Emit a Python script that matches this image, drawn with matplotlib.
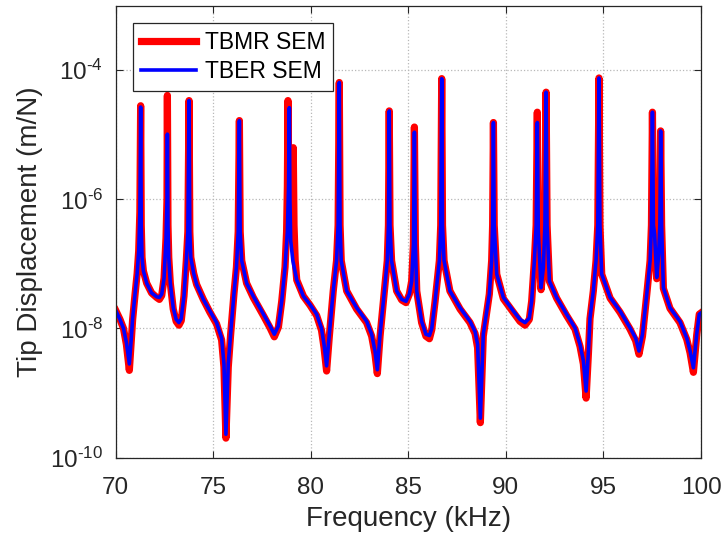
import numpy as np
import matplotlib.pyplot as plt
from matplotlib.ticker import FixedLocator, FixedFormatter

plt.rcParams['font.family'] = ['Liberation Sans', 'DejaVu Sans']
plt.rcParams['mathtext.fontset'] = 'custom'
plt.rcParams['mathtext.rm'] = 'Liberation Sans'
plt.rcParams['mathtext.it'] = 'Liberation Sans'

# TBER SEM (blue): frequency (kHz) and log10 of tip displacement
f_tber = [70.00, 70.22, 70.40, 70.55, 70.70, 70.80, 70.87, 70.99, 71.10, 71.18, 71.24, 71.28,
          71.31, 71.35, 71.42, 71.59, 71.84, 72.10, 72.24, 72.36, 72.48, 72.58, 72.63, 72.65,
          72.68, 72.72, 72.80, 72.95, 73.10, 73.24, 73.36, 73.50, 73.62, 73.70, 73.76, 73.80,
          73.85, 74.00, 74.15, 74.49, 74.83, 75.17, 75.43, 75.55, 75.65, 75.77, 75.89, 76.06,
          76.19, 76.28, 76.34, 76.38, 76.46, 76.71, 77.05, 77.57, 77.91, 78.13, 78.34, 78.51,
          78.68, 78.80, 78.86, 78.90, 78.93, 78.97, 79.08, 79.28, 79.62, 79.96, 80.30, 80.55,
          80.68, 80.81, 80.95, 81.15, 81.32, 81.40, 81.46, 81.50, 81.56, 81.84, 82.35, 82.86,
          83.12, 83.29, 83.41, 83.55, 83.72, 83.92, 83.98, 84.02, 84.06, 84.14, 84.40, 84.66,
          84.88, 85.05, 85.17, 85.26, 85.31, 85.36, 85.43, 85.68, 85.90, 86.08, 86.20, 86.37,
          86.59, 86.66, 86.71, 86.75, 86.83, 87.13, 87.65, 88.16, 88.42, 88.55, 88.69, 88.84,
          89.15, 89.27, 89.32, 89.36, 89.40, 89.53, 89.87, 90.38, 90.72, 90.98, 91.20, 91.32,
          91.46, 91.55, 91.61, 91.66, 91.80, 91.92, 92.00, 92.06, 92.11, 92.23, 92.60, 93.11,
          93.54, 93.80, 93.97, 94.11, 94.23, 94.31, 94.48, 94.62, 94.71, 94.77, 94.82, 94.91,
          95.34, 95.85, 96.36, 96.65, 96.82, 97.00, 97.22, 97.39, 97.46, 97.51, 97.56, 97.62,
          97.73, 97.83, 97.89, 97.93, 97.98, 98.07, 98.41, 98.92, 99.27, 99.44, 99.61, 99.78,
          99.91, 100.00]
exp_tber = [-7.72, -7.86, -8.00, -8.22, -8.55, -8.15, -7.84, -7.47, -7.15, -6.80, -6.20, -4.57,
            -6.40, -6.90, -7.11, -7.30, -7.45, -7.51, -7.52, -7.47, -7.22, -6.60, -6.00, -4.99,
            -6.40, -6.90, -7.30, -7.68, -7.86, -7.91, -7.85, -7.50, -6.95, -6.50, -4.47, -6.50,
            -6.90, -7.15, -7.32, -7.55, -7.73, -7.91, -8.15, -8.55, -9.64, -8.55, -8.09, -7.47,
            -7.05, -6.50, -4.78, -6.50, -6.95, -7.30, -7.50, -7.78, -7.96, -8.09, -7.96, -7.58,
            -7.05, -6.50, -5.80, -4.58, -6.00, -6.64, -6.95, -7.25, -7.50, -7.63, -7.78, -8.00,
            -8.25, -8.58, -8.09, -7.42, -6.95, -6.40, -4.19, -6.40, -6.95, -7.42, -7.68, -7.89,
            -8.09, -8.35, -8.64, -8.09, -7.58, -6.95, -6.40, -4.63, -6.40, -6.95, -7.42, -7.55,
            -7.58, -7.47, -7.27, -6.70, -4.96, -6.70, -7.42, -7.89, -8.09, -8.11, -8.00, -7.58,
            -6.95, -6.40, -4.13, -6.40, -6.95, -7.42, -7.68, -7.89, -8.05, -8.25, -9.39, -8.09,
            -7.47, -6.95, -6.40, -4.81, -6.40, -7.16, -7.52, -7.73, -7.86, -7.91, -7.84, -7.58,
            -6.95, -6.40, -4.81, -6.50, -7.37, -7.06, -6.40, -4.34, -6.40, -7.27, -7.52, -7.78,
            -7.99, -8.25, -8.50, -8.97, -8.35, -7.84, -7.42, -6.95, -6.40, -4.12, -6.40, -7.16,
            -7.52, -7.73, -7.99, -8.15, -8.35, -8.09, -7.47, -6.95, -6.40, -4.65, -6.40, -6.54,
            -7.21, -6.85, -6.40, -4.94, -6.40, -7.37, -7.68, -7.89, -8.15, -8.35, -8.61, -8.09,
            -7.78, -7.76]

# TBMR SEM (red)
f_tbmr = [70.00, 70.22, 70.40, 70.55, 70.70, 70.80, 70.87, 70.99, 71.10, 71.18, 71.24, 71.28,
          71.31, 71.35, 71.42, 71.59, 71.84, 72.10, 72.24, 72.36, 72.48, 72.58, 72.63, 72.65,
          72.68, 72.72, 72.80, 72.95, 73.10, 73.24, 73.36, 73.50, 73.62, 73.70, 73.76, 73.80,
          73.85, 74.00, 74.15, 74.49, 74.83, 75.17, 75.43, 75.55, 75.65, 75.77, 75.89, 76.06,
          76.19, 76.28, 76.34, 76.38, 76.46, 76.71, 77.05, 77.57, 77.91, 78.13, 78.34, 78.51,
          78.68, 78.76, 78.80, 78.83, 78.87, 78.93, 79.00, 79.06, 79.10, 79.14, 79.20, 79.28,
          79.62, 79.96, 80.30, 80.55, 80.68, 80.81, 80.95, 81.15, 81.32, 81.40, 81.46, 81.50,
          81.56, 81.84, 82.35, 82.86, 83.12, 83.29, 83.41, 83.55, 83.72, 83.92, 83.98, 84.02,
          84.06, 84.14, 84.40, 84.66, 84.88, 85.05, 85.17, 85.26, 85.31, 85.36, 85.43, 85.68,
          85.90, 86.08, 86.20, 86.37, 86.59, 86.66, 86.71, 86.75, 86.83, 87.13, 87.65, 88.16,
          88.42, 88.55, 88.69, 88.84, 89.15, 89.27, 89.32, 89.36, 89.40, 89.53, 89.87, 90.38,
          90.72, 90.98, 91.20, 91.32, 91.46, 91.55, 91.61, 91.66, 91.80, 91.92, 92.00, 92.06,
          92.11, 92.23, 92.60, 93.11, 93.54, 93.80, 93.97, 94.11, 94.23, 94.31, 94.48, 94.62,
          94.71, 94.77, 94.82, 94.91, 95.34, 95.85, 96.36, 96.65, 96.82, 97.00, 97.22, 97.39,
          97.46, 97.51, 97.56, 97.62, 97.73, 97.83, 97.89, 97.93, 97.98, 98.07, 98.41, 98.92,
          99.27, 99.44, 99.61, 99.78, 99.91, 100.00]
exp_tbmr = [-7.72, -7.86, -8.00, -8.25, -8.65, -8.18, -7.86, -7.48, -7.15, -6.80, -6.20, -4.55,
            -6.40, -6.90, -7.11, -7.30, -7.45, -7.52, -7.55, -7.49, -7.22, -6.60, -6.00, -4.39,
            -6.40, -6.90, -7.30, -7.70, -7.89, -7.95, -7.88, -7.50, -6.95, -6.50, -4.47, -6.50,
            -6.90, -7.15, -7.32, -7.55, -7.75, -7.93, -8.18, -8.60, -9.70, -8.60, -8.10, -7.47,
            -7.05, -6.50, -4.78, -6.50, -6.95, -7.30, -7.52, -7.80, -7.99, -8.13, -7.98, -7.58,
            -7.05, -6.50, -5.80, -4.47, -6.00, -6.45, -6.55, -6.10, -5.20, -6.40, -6.95, -7.25,
            -7.50, -7.64, -7.80, -8.03, -8.30, -8.66, -8.12, -7.42, -6.95, -6.40, -4.19, -6.40,
            -6.95, -7.42, -7.70, -7.91, -8.12, -8.40, -8.70, -8.12, -7.58, -6.95, -6.40, -4.63,
            -6.40, -6.95, -7.42, -7.56, -7.60, -7.47, -7.27, -6.70, -4.88, -6.70, -7.42, -7.91,
            -8.12, -8.16, -8.02, -7.58, -6.95, -6.40, -4.13, -6.40, -6.95, -7.42, -7.70, -7.91,
            -8.08, -8.30, -9.46, -8.12, -7.47, -6.95, -6.40, -4.81, -6.40, -7.16, -7.54, -7.75,
            -7.89, -7.95, -7.86, -7.58, -6.95, -6.40, -4.65, -6.50, -7.40, -7.06, -6.40, -4.34,
            -6.40, -7.27, -7.53, -7.80, -8.01, -8.28, -8.55, -9.08, -8.38, -7.85, -7.42, -6.95,
            -6.40, -4.12, -6.40, -7.16, -7.53, -7.75, -8.01, -8.19, -8.40, -8.12, -7.47, -6.95,
            -6.40, -4.65, -6.40, -6.54, -7.23, -6.85, -6.40, -4.94, -6.40, -7.38, -7.69, -7.91,
            -8.17, -8.38, -8.68, -8.10, -7.78, -7.76]

x_ticks = [70, 75, 80, 85, 90, 95, 100]
y_ticks = [1e-10, 1e-8, 1e-6, 1e-4]
y_tick_labels = [r'$10^{\text{-}10}$', r'$10^{\text{-}8}$', r'$10^{\text{-}6}$', r'$10^{\text{-}4}$']

dark = '#262626'

fig = plt.figure(figsize=(7.23, 5.44), dpi=100)
ax = fig.add_axes([0.160, 0.159, 0.8096, 0.8305])

ax.semilogy(f_tbmr, 10.0 ** np.array(exp_tbmr), color='red', lw=5.2, label='TBMR SEM',
            solid_joinstyle='round')
ax.semilogy(f_tber, 10.0 ** np.array(exp_tber), color='blue', lw=2.6, label='TBER SEM',
            solid_joinstyle='round')

ax.set_xlim(70, 100)
ax.set_ylim(1e-10, 1e-3)
ax.set_xticks(x_ticks)
ax.yaxis.set_major_locator(FixedLocator(y_ticks))
ax.yaxis.set_major_formatter(FixedFormatter(y_tick_labels))
ax.yaxis.set_minor_locator(FixedLocator([]))
ax.tick_params(direction='in', top=True, right=True, labelsize=17.5, length=5, width=0.8,
               colors=dark)
ax.tick_params(axis='x', pad=14)
ax.tick_params(axis='y', pad=9)
ax.grid(True, color='#b8b8b8', linestyle=':', linewidth=0.9)
for s in ax.spines.values():
    s.set_linewidth(0.9)
    s.set_color(dark)

ax.set_xlabel('Frequency (kHz)', fontsize=20, color=dark, labelpad=5)
ax.set_ylabel('Tip Displacement (m/N)', fontsize=20, color=dark, labelpad=5)

leg = ax.legend(loc='upper left', bbox_to_anchor=(0.029, 0.962), borderaxespad=0,
                fontsize=16.5, fancybox=False, framealpha=1, edgecolor=dark,
                handlelength=2.4, borderpad=0.35, labelspacing=0.25, handletextpad=0.4)
leg.get_frame().set_linewidth(0.9)

fig.savefig('out.png', dpi=100)
